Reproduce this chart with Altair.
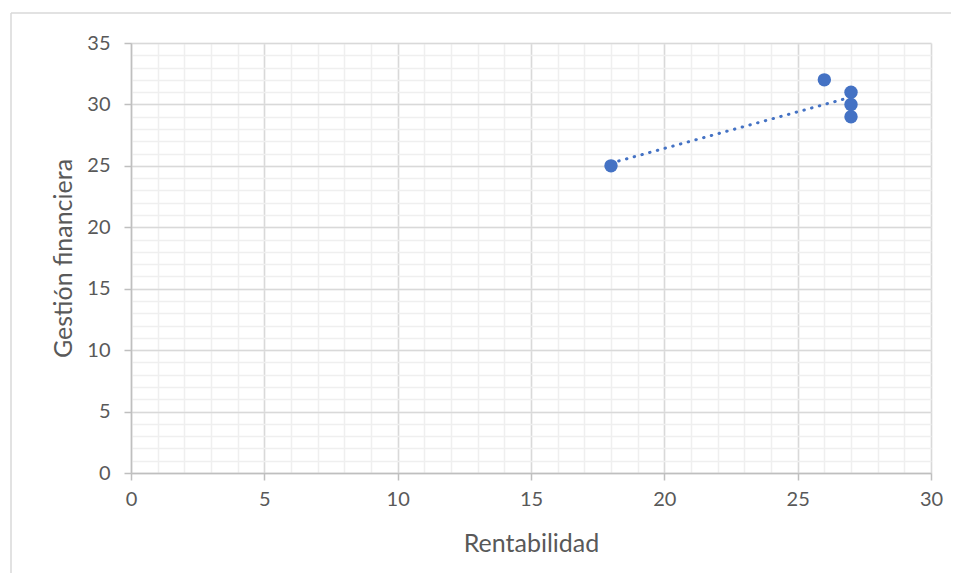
import altair as alt
import pandas as pd

# data
rentabilidad = [18, 26, 27, 27, 27]
gestion = [25, 32, 31, 30, 29]

x_major = [0, 5, 10, 15, 20, 25, 30]
y_major = [0, 5, 10, 15, 20, 25, 30, 35]
x_minor = list(range(0, 31))
y_minor = list(range(0, 36))

df = pd.DataFrame({"Rentabilidad": rentabilidad, "Gestión financiera": gestion})

FONT = "Lato"
TXT = "#595959"
BLUE = "#4472C4"
FRAME = "#d9d9d9"

xs = alt.Scale(domain=[0, 30], nice=False, zero=False)
ys = alt.Scale(domain=[0, 35], nice=False, zero=False)

one = pd.DataFrame({"k": [0]})
frame_top = alt.Chart(one).mark_rule(stroke=FRAME, strokeWidth=1.5).encode(
    x=alt.value(-120), x2=alt.value(850), y=alt.value(-30)
)
frame_left = alt.Chart(one).mark_rule(stroke=FRAME, strokeWidth=1.5).encode(
    x=alt.value(-120), y=alt.value(-30), y2=alt.value(560)
)

minor = alt.Chart(df).mark_point(opacity=0).encode(
    x=alt.X("Rentabilidad:Q", scale=xs,
            axis=alt.Axis(values=x_minor, grid=True, gridColor="#efefef", gridWidth=1.5,
                          labels=False, ticks=False, domain=False, title="", orient="bottom")),
    y=alt.Y("Gestión financiera:Q", scale=ys,
            axis=alt.Axis(values=y_minor, grid=True, gridColor="#efefef", gridWidth=1.5,
                          labels=False, ticks=False, domain=False, title="", orient="left")),
)

xaxis = alt.Axis(values=x_major, grid=True, gridColor="#d9d9d9", gridWidth=1.5,
                 domainColor="#bfbfbf", domainWidth=1.5, tickColor="#bfbfbf", tickWidth=1.5,
                 tickSize=7, labelPadding=9, labelFlush=False, labelFont=FONT, labelFontSize=20,
                 labelColor=TXT,
                 title="Rentabilidad", titleFont=FONT, titleFontSize=25, titleColor=TXT,
                 titleFontWeight="normal", titleBaseline="alphabetic", titleY=78, orient="bottom")
yaxis = alt.Axis(values=y_major, grid=True, gridColor="#d9d9d9", gridWidth=1.5,
                 domainColor="#bfbfbf", domainWidth=1.5, tickColor="#bfbfbf", tickWidth=1.5,
                 tickSize=7, labelPadding=14, labelFlush=False, labelFont=FONT, labelFontSize=20,
                 labelColor=TXT,
                 title="Gestión financiera", titleFont=FONT, titleFontSize=25, titleColor=TXT,
                 titleFontWeight="normal", titleBaseline="alphabetic", titleX=-60, orient="left")

points = alt.Chart(df).mark_circle(size=180, color=BLUE, opacity=1).encode(
    x=alt.X("Rentabilidad:Q", scale=xs, axis=xaxis),
    y=alt.Y("Gestión financiera:Q", scale=ys, axis=yaxis),
)

trend = alt.Chart(df).transform_regression(
    "Rentabilidad", "Gestión financiera", method="linear"
).mark_line(color=BLUE, strokeWidth=3, strokeDash=[0.5, 7.5], strokeCap="round").encode(
    x=alt.X("Rentabilidad:Q", scale=xs, axis=None),
    y=alt.Y("Gestión financiera:Q", scale=ys, axis=None),
)

chart = alt.layer(frame_top, frame_left, minor, trend, points).resolve_axis(
    x="independent", y="independent"
).properties(
    width=800, height=430,
    autosize=alt.AutoSizeParams(type="none"),
    padding={"left": 123, "top": 35, "right": 20, "bottom": 100},
).configure_view(strokeWidth=0)

chart.save("out.html", embed_options={"renderer": "svg", "actions": False})
